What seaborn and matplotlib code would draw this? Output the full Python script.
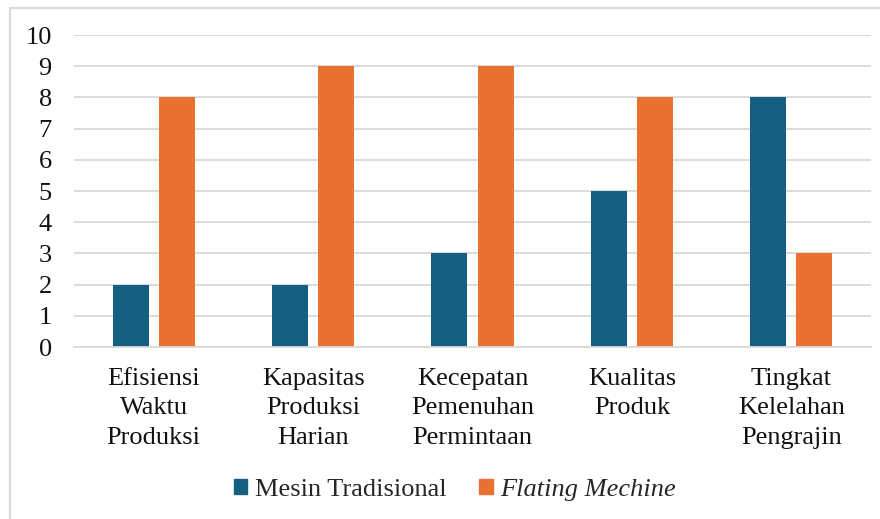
import pandas as pd
import matplotlib
matplotlib.use("Agg")
from matplotlib import pyplot as plt
from matplotlib.patches import Rectangle
import seaborn as sns

# data
categories = ["Efisiensi\nWaktu\nProduksi", "Kapasitas\nProduksi\nHarian",
              "Kecepatan\nPemenuhan\nPermintaan", "Kualitas\nProduk",
              "Tingkat\nKelelahan\nPengrajin"]
mesin_tradisional = [2, 2, 3, 5, 8]
flating_mechine = [8, 9, 9, 8, 3]
series_names = ["Mesin Tradisional", "Flating Mechine"]
yticks = list(range(0, 11))

df = pd.DataFrame({
    "Kategori": categories * 2,
    "Nilai": mesin_tradisional + flating_mechine,
    "Seri": [series_names[0]] * len(categories) + [series_names[1]] * len(categories),
})

sns.set_style("white")
plt.rcParams['font.family'] = ['Liberation Serif', 'DejaVu Serif']

colors = ["#156082", "#E97132"]
grid_color = "#D9D9D9"

fig = plt.figure(figsize=(8.8, 5.19), dpi=100)
ax = fig.add_axes([74 / 880, 1 - 347 / 519, (871 - 74) / 880, (347 - 35) / 519])

sns.barplot(data=df, x="Kategori", y="Nilai", hue="Seri", palette=colors,
            width=0.58, gap=0.22, saturation=1, linewidth=0, ax=ax, legend=False)

ax.set_ylim(0, 10)
ax.set_yticks(yticks)
ax.set_xlim(-0.5, len(categories) - 0.5)
ax.set_xlabel("")
ax.set_ylabel("")
ax.yaxis.grid(True, color=grid_color, linewidth=1.3)
ax.set_axisbelow(True)
for s in ["top", "right", "left"]:
    ax.spines[s].set_visible(False)
ax.spines["bottom"].set_color(grid_color)
ax.spines["bottom"].set_linewidth(1.3)
ax.tick_params(axis="y", length=0, pad=16, labelsize=19, labelcolor="#111111")
ax.tick_params(axis="x", length=0, pad=15, labelsize=19, labelcolor="#111111")
for lbl in ax.get_xticklabels():
    lbl.set_linespacing(1.45)

# legend
handles = [Rectangle((0, 0), 1, 1, color=c) for c in colors]
leg = fig.legend(handles, series_names, loc="center", bbox_to_anchor=(455 / 880, 1 - 490 / 519),
                 ncol=2, frameon=False, fontsize=19, handlelength=0.5, handleheight=0.5,
                 handletextpad=0.3, columnspacing=1.25)
leg.get_texts()[1].set_fontstyle("italic")

# chart border (cropped at right and bottom)
fig.patches.append(Rectangle((10 / 880, -0.1), 1.2, 1 - 8 / 519 + 0.1, transform=fig.transFigure,
                             fill=False, edgecolor=grid_color, linewidth=1.5, figure=fig))

fig.savefig("out.png", dpi=100)
